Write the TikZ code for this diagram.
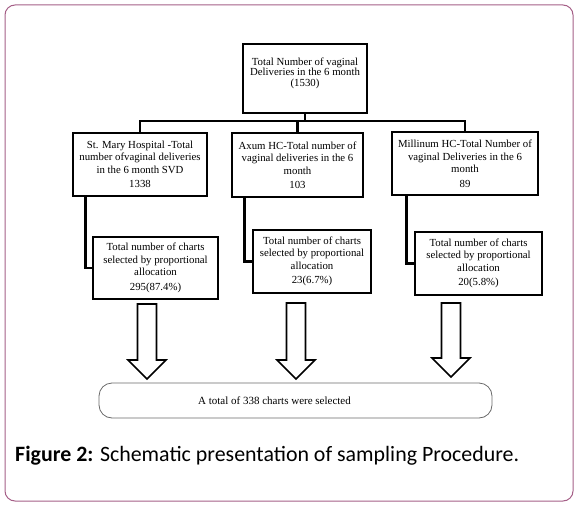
\documentclass[tikz,border=0pt]{standalone}
\usepackage{fontspec}
\setmainfont{Liberation Serif}
\newfontfamily\capfont{Carlito}
\definecolor{framepink}{RGB}{165,95,135}
\definecolor{roundgray}{RGB}{105,105,105}
\tikzset{
  box/.style={draw, line width=2.6pt, align=center, inner sep=1pt,
    font=\fontsize{10.8}{12.5}\selectfont},
  link/.style={line width=2.6pt},
  blockarr/.style={draw, line width=1.6pt, line join=miter, fill=white},
}
\begin{document}
\begin{tikzpicture}[x=1pt, y=-1pt]
  \useasboundingbox (0,0) rectangle (580,508);
  \draw[framepink, line width=1pt, rounded corners=10pt] (5,5) rectangle (573,501);

  % top level
  \node[box, minimum width=124pt, minimum height=69pt, font=\fontsize{10.8}{10.5}\selectfont] (total) at (305,78.5)
    {Total Number of vaginal\\Deliveries in the 6 month\\(1530)\\[3pt]};

  % facilities
  \node[box, minimum width=134pt, minimum height=63pt] (smh) at (140,164.5)
    {St. Mary Hospital -Total\\number ofvaginal deliveries\\in the 6 month SVD\\[2pt]1338};
  \node[box, minimum width=131pt, minimum height=64pt] (axum) at (297.5,165)
    {Axum HC-Total number of\\vaginal deliveries in the 6\\month\\[2pt]103};
  \node[box, minimum width=146pt, minimum height=63pt] (mil) at (465,163.5)
    {Millinum HC-Total Number of\\vaginal Deliveries in the 6\\month\\[2pt]89};

  % charts selected
  \node[box, minimum width=125pt, minimum height=62pt] (smhc) at (155.5,268)
    {Total number of charts\\selected by proportional\\allocation\\[2pt]295(87.4\%)};
  \node[box, minimum width=118pt, minimum height=63pt] (axumc) at (312,261.5)
    {Total number of charts\\selected by proportional\\allocation\\[2pt]23(6.7\%)};
  \node[box, minimum width=127pt, minimum height=63pt] (milc) at (478.5,263.5)
    {Total number of charts\\selected by proportional\\allocation\\[2pt]20(5.8\%)};

  \coordinate (bus) at (305,121);
  \draw[link] (total.south) -- (bus);
  \draw[link] (smh.north) |- (bus) -| (mil.north);
  \draw[link] (axum.north) -- (axum.north |- bus);

  \draw[link] ([xshift=14pt]smh.south west) |- (smhc.west);
  \draw[link] ([xshift=14pt]axum.south west) |- (axumc.west);
  \draw[link] ([xshift=16pt]mil.south west) |- (milc.west);

  % block arrows
  \foreach \x/\t/\h in {147/304/360, 296/303/360, 451/303/358}
    \draw[blockarr] (\x-9.5,\t) -- (\x+9.5,\t) -- (\x+9.5,\h) -- (\x+19,\h)
      -- (\x,\h+19) -- (\x-19,\h) -- (\x-9.5,\h) -- cycle;

  % total
  \node[draw=roundgray, line width=0.8pt, rounded corners=13pt,
    minimum width=393pt, minimum height=35pt] (allbox) at (295.5,400.5) {};
  \node[anchor=west, font=\fontsize{11}{13}\selectfont] (alltext) at ([xshift=96pt]allbox.west)
    {A total of 338 charts were selected};

  % caption
  \node[anchor=west, inner sep=0pt, font=\capfont\fontsize{21.9}{24}\selectfont] (caption) at (15,456)
    {\textbf{Figure 2:} Schematic presentation of sampling Procedure.};
\end{tikzpicture}
\end{document}
